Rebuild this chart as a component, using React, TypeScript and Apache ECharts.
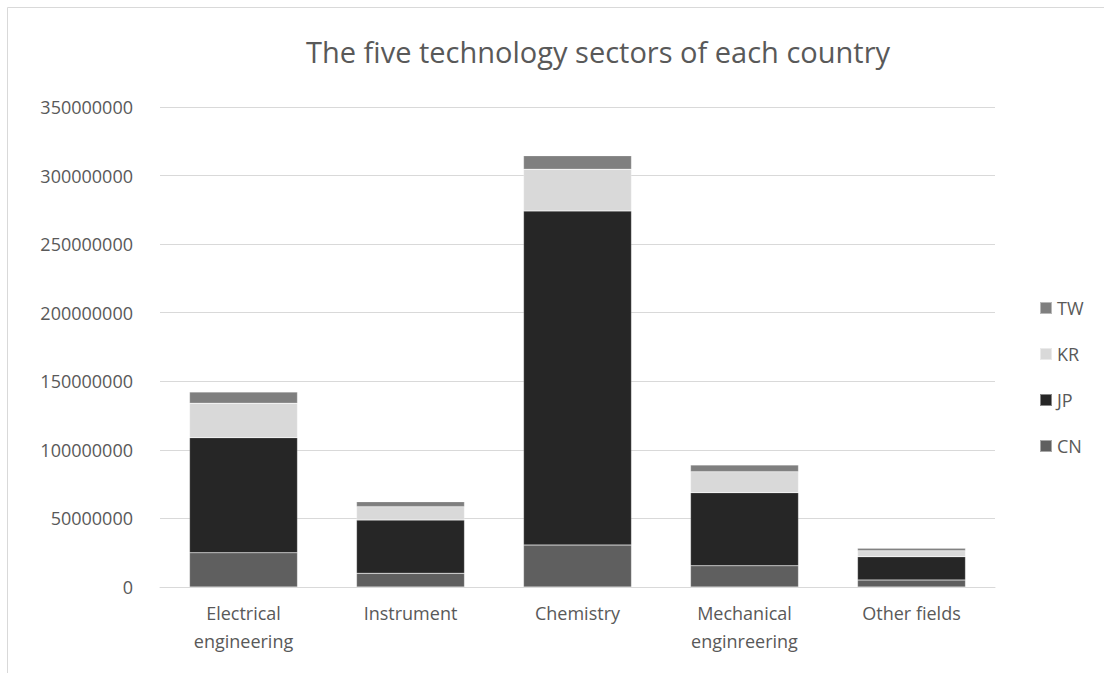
import React, { useEffect, useRef } from "react";
import * as echarts from "echarts";

const categories = ["Electrical\nengineering", "Instrument", "Chemistry", "Mechanical\nenginreering", "Other fields"];
const CN = [25000000, 10000000, 30600000, 15500000, 5100000];
const JP = [83900000, 38800000, 243600000, 53300000, 17000000];
const KR = [25100000, 9800000, 30400000, 15300000, 4400000];
const TW = [8200000, 3600000, 9900000, 4900000, 1700000];
const seriesNames = ["CN", "JP", "KR", "TW"];
const seriesColors = ["#5f5f5f", "#262626", "#d9d9d9", "#7f7f7f"];
const title = "The five technology sectors of each country";

const FONT = "'Open Sans', 'Noto Sans', sans-serif";

export default function App() {
  const ref = useRef<HTMLDivElement>(null);
  useEffect(() => {
    if (!ref.current) return;
    const chart = echarts.init(ref.current, undefined, { renderer: "svg" });
    const data = [CN, JP, KR, TW];
    chart.setOption({
      animation: false,
      backgroundColor: "#ffffff",
      title: {
        text: title,
        left: 593,
        textAlign: "center",
        top: 32,
        textStyle: { fontFamily: FONT, fontSize: 29, fontWeight: "normal", color: "#595959" },
      },
      graphic: [
        {
          type: "rect",
          shape: { x: 7.5, y: 7.5, width: 1120, height: 700 },
          style: { fill: "none", stroke: "#d9d9d9", lineWidth: 1 },
          silent: true,
        },
      ],
      legend: {
        orient: "vertical",
        left: 1034,
        top: 294,
        itemGap: 28,
        itemWidth: 12,
        itemHeight: 12,
        icon: "rect",
        data: ["TW", "KR", "JP", "CN"],
        textStyle: { fontFamily: FONT, fontSize: 18, color: "#595959" },
      },
      grid: { left: 160, right: 109, top: 107, bottom: 86, containLabel: false },
      xAxis: {
        type: "category",
        data: categories,
        axisLine: { lineStyle: { color: "#d9d9d9", width: 1 } },
        axisTick: { show: false },
        axisLabel: { fontFamily: FONT, fontSize: 18, color: "#595959", margin: 12, lineHeight: 28, interval: 0 },
      },
      yAxis: {
        type: "value",
        min: 0,
        max: 350000000,
        interval: 50000000,
        axisLine: { show: false },
        axisTick: { show: false },
        splitLine: { lineStyle: { color: "#d9d9d9", width: 1 } },
        axisLabel: {
          fontFamily: FONT,
          fontSize: 18,
          color: "#595959",
          margin: 27,
          formatter: (v: number) => String(v),
        },
      },
      series: seriesNames.map((n, i) => ({
        name: n,
        type: "bar",
        stack: "total",
        data: data[i],
        barWidth: 108,
        itemStyle: { color: seriesColors[i], borderColor: "rgba(255,255,255,0.45)", borderWidth: 0.5 },
      })),
    });
    return () => chart.dispose();
  }, []);
  return <div ref={ref} style={{ position: "fixed", left: 0, top: 0, width: 1104, height: 673 }} />;
}
